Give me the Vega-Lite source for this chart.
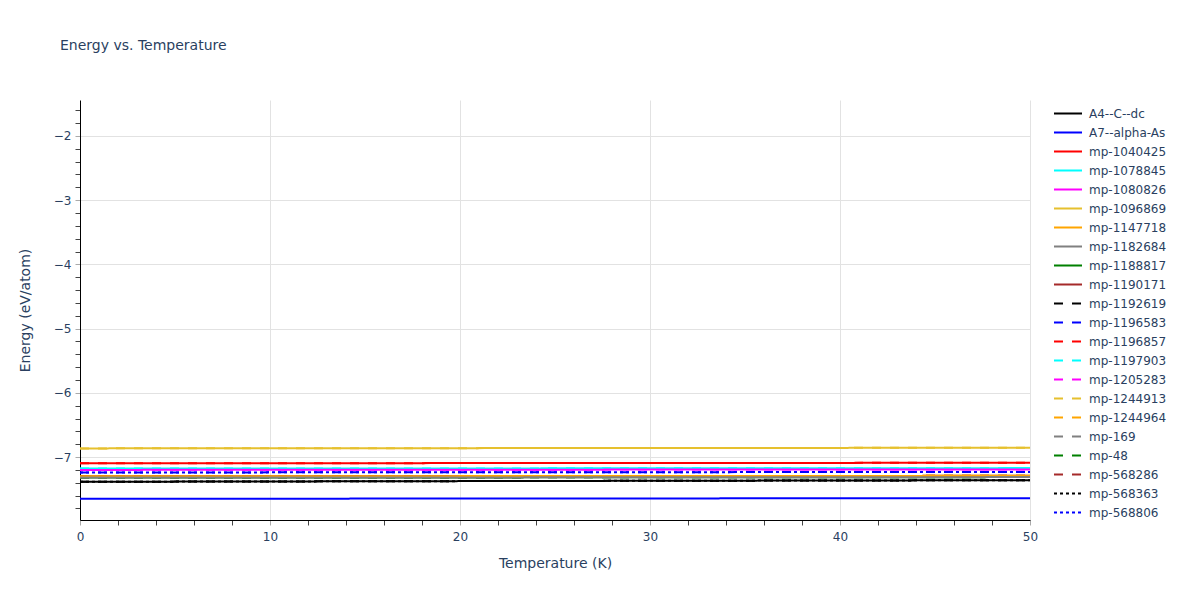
{
  "$schema": "https://vega.github.io/schema/vega-lite/v6.json",
  "autosize": "none",
  "width": 950,
  "height": 420,
  "padding": {"left": 80, "top": 100, "right": 170, "bottom": 80},
  "background": "white",
  "config": {
    "font": "DejaVu Sans",
    "view": {"stroke": null},
    "axis": {
      "labelFont": "DejaVu Sans",
      "labelFontSize": 12,
      "labelColor": "#2a3f5f",
      "titleFont": "DejaVu Sans",
      "titleFontSize": 14,
      "titleFontWeight": "normal",
      "titleColor": "#2a3f5f",
      "domainColor": "#000000",
      "domainWidth": 1,
      "gridColor": "#e2e2e2",
      "gridWidth": 1
    }
  },
  "title": {
    "text": "Energy vs. Temperature",
    "anchor": "start",
    "frame": "group",
    "dx": -20,
    "offset": 47,
    "fontSize": 14,
    "fontWeight": "normal",
    "color": "#2a3f5f",
    "font": "DejaVu Sans"
  },
  "data": {
    "values": [
      {"T": 0, "series": "A4--C--dc", "E": -7.385}, {"T": 25, "series": "A4--C--dc", "E": -7.372}, {"T": 50, "series": "A4--C--dc", "E": -7.36},
      {"T": 0, "series": "A7--alpha-As", "E": -7.65}, {"T": 25, "series": "A7--alpha-As", "E": -7.645}, {"T": 50, "series": "A7--alpha-As", "E": -7.64},
      {"T": 0, "series": "mp-1040425", "E": -7.098}, {"T": 25, "series": "mp-1040425", "E": -7.093}, {"T": 50, "series": "mp-1040425", "E": -7.089},
      {"T": 0, "series": "mp-1078845", "E": -7.18}, {"T": 25, "series": "mp-1078845", "E": -7.176}, {"T": 50, "series": "mp-1078845", "E": -7.172},
      {"T": 0, "series": "mp-1080826", "E": -7.2}, {"T": 25, "series": "mp-1080826", "E": -7.196}, {"T": 50, "series": "mp-1080826", "E": -7.192},
      {"T": 0, "series": "mp-1096869", "E": -6.865}, {"T": 25, "series": "mp-1096869", "E": -6.86}, {"T": 50, "series": "mp-1096869", "E": -6.855},
      {"T": 0, "series": "mp-1147718", "E": -7.3}, {"T": 25, "series": "mp-1147718", "E": -7.296}, {"T": 50, "series": "mp-1147718", "E": -7.292},
      {"T": 0, "series": "mp-1182684", "E": -7.32}, {"T": 25, "series": "mp-1182684", "E": -7.316}, {"T": 50, "series": "mp-1182684", "E": -7.312},
      {"T": 0, "series": "mp-1188817", "E": -7.32}, {"T": 25, "series": "mp-1188817", "E": -7.316}, {"T": 50, "series": "mp-1188817", "E": -7.312},
      {"T": 0, "series": "mp-1190171", "E": -7.3}, {"T": 25, "series": "mp-1190171", "E": -7.296}, {"T": 50, "series": "mp-1190171", "E": -7.292},
      {"T": 0, "series": "mp-1192619", "E": -7.385}, {"T": 25, "series": "mp-1192619", "E": -7.372}, {"T": 50, "series": "mp-1192619", "E": -7.36},
      {"T": 0, "series": "mp-1196583", "E": -7.24}, {"T": 25, "series": "mp-1196583", "E": -7.236}, {"T": 50, "series": "mp-1196583", "E": -7.232},
      {"T": 0, "series": "mp-1196857", "E": -7.098}, {"T": 25, "series": "mp-1196857", "E": -7.093}, {"T": 50, "series": "mp-1196857", "E": -7.089},
      {"T": 0, "series": "mp-1197903", "E": -7.18}, {"T": 25, "series": "mp-1197903", "E": -7.176}, {"T": 50, "series": "mp-1197903", "E": -7.172},
      {"T": 0, "series": "mp-1205283", "E": -7.2}, {"T": 25, "series": "mp-1205283", "E": -7.196}, {"T": 50, "series": "mp-1205283", "E": -7.192},
      {"T": 0, "series": "mp-1244913", "E": -6.865}, {"T": 25, "series": "mp-1244913", "E": -6.86}, {"T": 50, "series": "mp-1244913", "E": -6.855},
      {"T": 0, "series": "mp-1244964", "E": -7.3}, {"T": 25, "series": "mp-1244964", "E": -7.296}, {"T": 50, "series": "mp-1244964", "E": -7.292},
      {"T": 0, "series": "mp-169", "E": -7.32}, {"T": 25, "series": "mp-169", "E": -7.316}, {"T": 50, "series": "mp-169", "E": -7.312},
      {"T": 0, "series": "mp-48", "E": -7.32}, {"T": 25, "series": "mp-48", "E": -7.316}, {"T": 50, "series": "mp-48", "E": -7.312},
      {"T": 0, "series": "mp-568286", "E": -7.3}, {"T": 25, "series": "mp-568286", "E": -7.296}, {"T": 50, "series": "mp-568286", "E": -7.292},
      {"T": 0, "series": "mp-568363", "E": -7.385}, {"T": 25, "series": "mp-568363", "E": -7.372}, {"T": 50, "series": "mp-568363", "E": -7.36},
      {"T": 0, "series": "mp-568806", "E": -7.24}, {"T": 25, "series": "mp-568806", "E": -7.236}, {"T": 50, "series": "mp-568806", "E": -7.232}
    ]
  },
  "encoding": {
    "x": {
      "field": "T",
      "type": "quantitative",
      "title": "Temperature (K)",
      "scale": {"domain": [0, 50], "nice": false, "zero": false},
      "axis": {
        "values": [0, 2, 4, 6, 8, 10, 12, 14, 16, 18, 20, 22, 24, 26, 28, 30, 32, 34, 36, 38, 40, 42, 44, 46, 48, 50],
        "labelExpr": "datum.value % 10 == 0 ? datum.label : ''",
        "labelFlush": false,
        "labelOverlap": false,
        "tickSize": 5,
        "tickColor": {"condition": {"test": "datum.value % 10 == 0", "value": "#aaaaaa"}, "value": "#444444"},
        "gridOpacity": {"condition": {"test": "datum.value % 10 == 0 && datum.value > 0", "value": 1}, "value": 0},
        "labelPadding": 6,
        "titlePadding": 14
      }
    },
    "y": {
      "field": "E",
      "type": "quantitative",
      "title": "Energy (eV/atom)",
      "scale": {"domain": [-7.98, -1.44], "nice": false, "zero": false},
      "axis": {
        "values": [-7.8, -7.6, -7.4, -7.2, -7, -6.8, -6.6, -6.4, -6.2, -6, -5.8, -5.6, -5.4, -5.2, -5, -4.8, -4.6, -4.4, -4.2, -4, -3.8, -3.6, -3.4, -3.2, -3, -2.8, -2.6, -2.4, -2.2, -2, -1.8, -1.6],
        "labelExpr": "abs(round(datum.value * 5)) % 5 == 0 ? '\u2212' + abs(round(datum.value)) : ''",
        "labelOverlap": false,
        "labelFlush": false,
        "tickSize": 5,
        "tickColor": {"condition": {"test": "abs(round(datum.value * 5)) % 5 == 0", "value": "#aaaaaa"}, "value": "#444444"},
        "gridOpacity": {"condition": {"test": "abs(round(datum.value * 5)) % 5 == 0", "value": 1}, "value": 0},
        "labelPadding": 4,
        "titlePadding": 21
      }
    },
    "color": {
      "field": "series",
      "type": "nominal",
      "scale": {
        "domain": ["A4--C--dc", "A7--alpha-As", "mp-1040425", "mp-1078845", "mp-1080826", "mp-1096869", "mp-1147718", "mp-1182684", "mp-1188817", "mp-1190171", "mp-1192619", "mp-1196583", "mp-1196857", "mp-1197903", "mp-1205283", "mp-1244913", "mp-1244964", "mp-169", "mp-48", "mp-568286", "mp-568363", "mp-568806"],
        "range": ["#000000", "#0000ff", "#ff0000", "#00ffff", "#ff00ff", "#e6c02e", "#ffa500", "#808080", "#008000", "#a52a2a", "#000000", "#0000ff", "#ff0000", "#00ffff", "#ff00ff", "#e6c02e", "#ffa500", "#808080", "#008000", "#a52a2a", "#000000", "#0000ff"]
      },
      "legend": {
        "title": null,
        "orient": "none",
        "legendX": 973,
        "legendY": 4,
        "symbolType": "stroke",
        "symbolSize": 784,
        "symbolStrokeWidth": 2,
        "labelFont": "DejaVu Sans",
        "labelFontSize": 12,
        "labelColor": "#2a3f5f",
        "labelOffset": 6,
        "clipHeight": 19,
        "rowPadding": 0,
        "labelLimit": 200
      }
    },
    "strokeDash": {
      "field": "series",
      "type": "nominal",
      "scale": {
        "domain": ["A4--C--dc", "A7--alpha-As", "mp-1040425", "mp-1078845", "mp-1080826", "mp-1096869", "mp-1147718", "mp-1182684", "mp-1188817", "mp-1190171", "mp-1192619", "mp-1196583", "mp-1196857", "mp-1197903", "mp-1205283", "mp-1244913", "mp-1244964", "mp-169", "mp-48", "mp-568286", "mp-568363", "mp-568806"],
        "range": [[1, 0], [1, 0], [1, 0], [1, 0], [1, 0], [1, 0], [1, 0], [1, 0], [1, 0], [1, 0], [9, 9], [9, 9], [9, 9], [9, 9], [9, 9], [9, 9], [9, 9], [9, 9], [9, 9], [9, 9], [3, 3], [3, 3]]
      }
    }
  },
  "layer": [
    {
      "transform": [{"filter": {"not": {"field": "series", "oneOf": ["A4--C--dc", "A7--alpha-As", "mp-1040425", "mp-1078845", "mp-1080826", "mp-1096869", "mp-1147718", "mp-1182684"]}}}],
      "mark": {"type": "line", "strokeWidth": 2}
    },
    {
      "transform": [{"filter": {"field": "series", "oneOf": ["A4--C--dc", "A7--alpha-As", "mp-1040425", "mp-1078845", "mp-1080826", "mp-1096869", "mp-1147718", "mp-1182684"]}}],
      "mark": {"type": "line", "strokeWidth": 2}
    }
  ]
}
